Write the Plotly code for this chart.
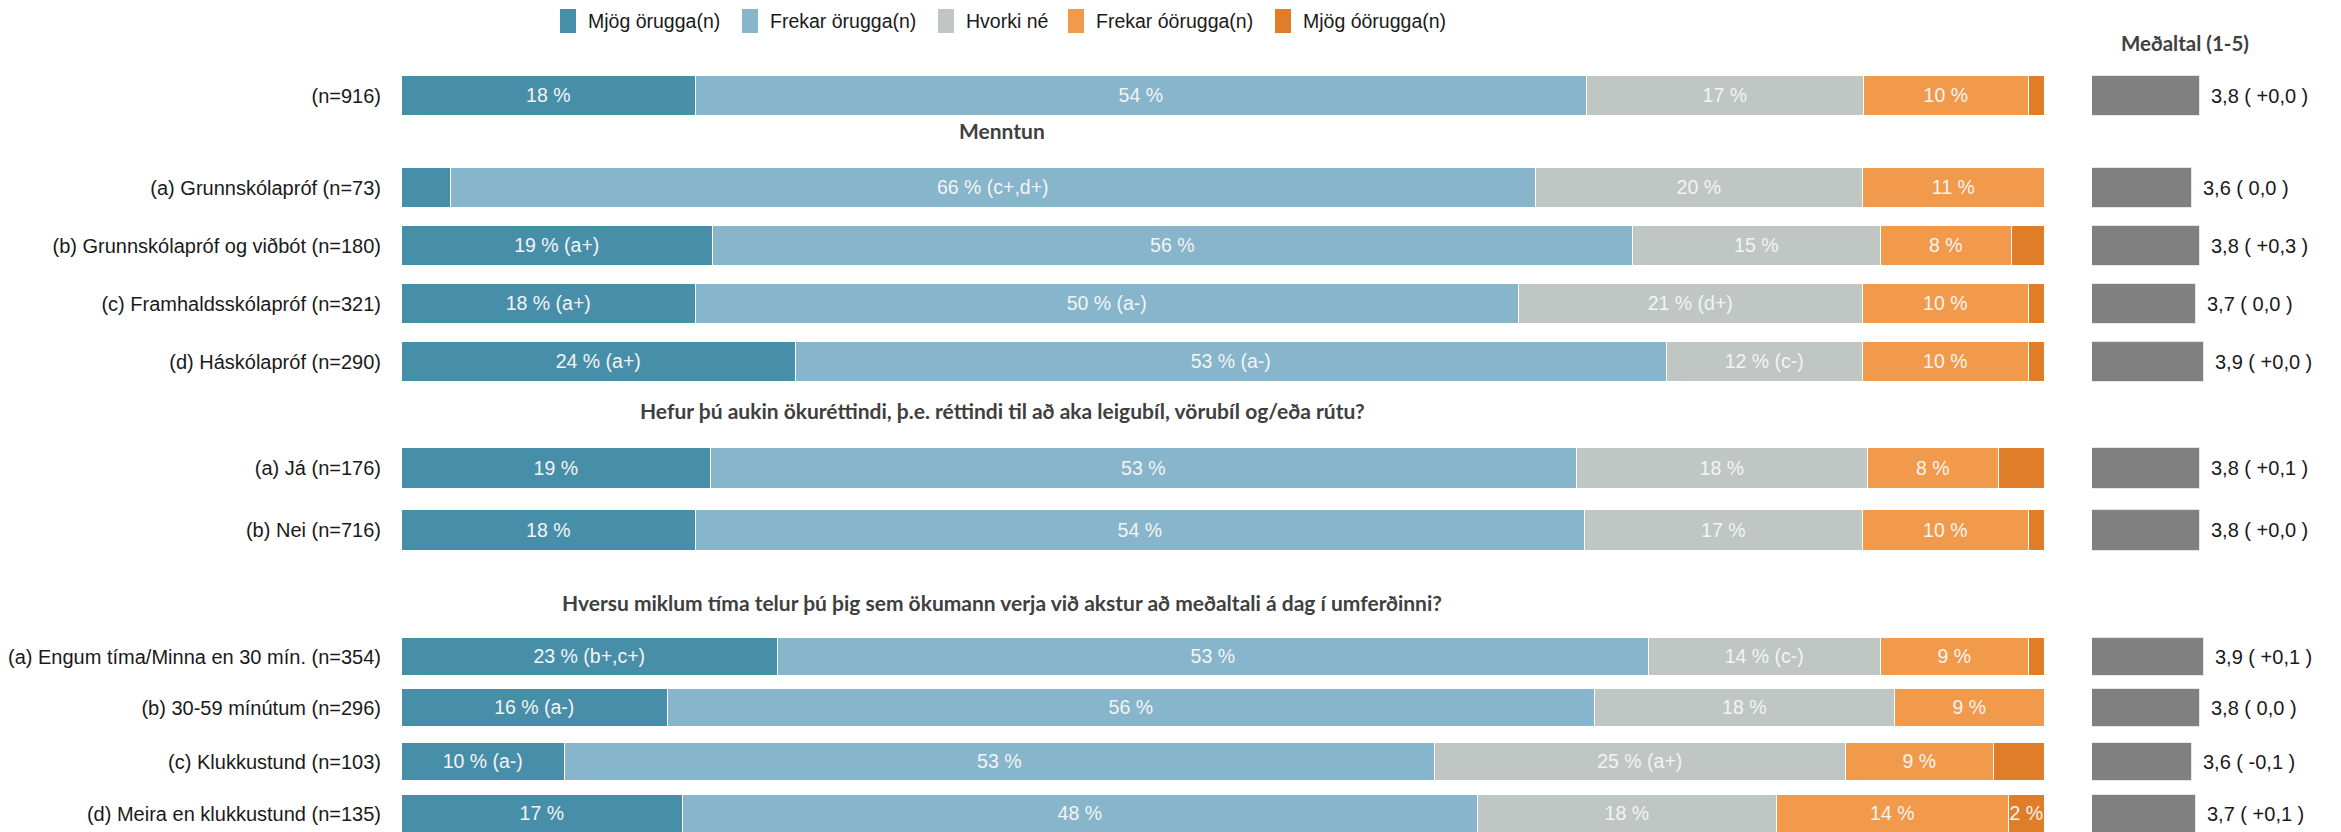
import plotly.graph_objects as go

# ---------------- data ----------------
rows = [
    "(n=916)",
    "(a) Grunnskólapróf (n=73)",
    "(b) Grunnskólapróf og viðbót (n=180)",
    "(c) Framhaldsskólapróf (n=321)",
    "(d) Háskólapróf (n=290)",
    "(a) Já (n=176)",
    "(b) Nei (n=716)",
    "(a) Engum tíma/Minna en 30 mín. (n=354)",
    "(b) 30-59 mínútum (n=296)",
    "(c) Klukkustund (n=103)",
    "(d) Meira en klukkustund (n=135)",
]
series_names = ["Mjög örugga(n)", "Frekar örugga(n)", "Hvorki né", "Frekar óörugga(n)", "Mjög óörugga(n)"]

mjog_orugga = [17.9, 3.0, 18.9, 17.9, 24.0, 18.8, 17.9, 22.9, 16.2, 9.9, 17.1]
frekar_orugga = [54.2, 66.0, 56.0, 50.1, 53.0, 52.7, 54.1, 53.0, 56.4, 53.0, 48.4]
hvorki = [16.9, 19.9, 15.1, 20.9, 11.9, 17.7, 16.9, 14.1, 18.3, 25.0, 18.2]
frekar_oorugga = [10.0, 11.1, 8.0, 10.1, 10.1, 8.0, 10.1, 9.0, 9.1, 9.0, 14.1]
mjog_oorugga = [1.0, 0.0, 2.0, 1.0, 1.0, 2.8, 1.0, 1.0, 0.0, 3.1, 2.2]

mjog_orugga_lbl = ["18 %", "", "19 % (a+)", "18 % (a+)", "24 % (a+)", "19 %", "18 %",
                   "23 % (b+,c+)", "16 % (a-)", "10 % (a-)", "17 %"]
frekar_orugga_lbl = ["54 %", "66 % (c+,d+)", "56 %", "50 % (a-)", "53 % (a-)", "53 %", "54 %",
                     "53 %", "56 %", "53 %", "48 %"]
hvorki_lbl = ["17 %", "20 %", "15 %", "21 % (d+)", "12 % (c-)", "18 %", "17 %",
              "14 % (c-)", "18 %", "25 % (a+)", "18 %"]
frekar_oorugga_lbl = ["10 %", "11 %", "8 %", "10 %", "10 %", "8 %", "10 %", "9 %", "9 %", "9 %", "14 %"]
mjog_oorugga_lbl = ["", "", "", "", "", "", "", "", "", "", "2 %"]

means = [3.8, 3.6, 3.8, 3.7, 3.9, 3.8, 3.8, 3.9, 3.8, 3.6, 3.7]
mean_lbl = ["3,8 ( +0,0 )", "3,6 ( 0,0 )", "3,8 ( +0,3 )", "3,7 ( 0,0 )", "3,9 ( +0,0 )",
            "3,8 ( +0,1 )", "3,8 ( +0,0 )", "3,9 ( +0,1 )", "3,8 ( 0,0 )", "3,6 ( -0,1 )",
            "3,7 ( +0,1 )"]

group_titles = [
    "Menntun",
    "Hefur þú aukin ökuréttindi, þ.e. réttindi til að aka leigubíl, vörubíl og/eða rútu?",
    "Hversu miklum tíma telur þú þig sem ökumann verja við akstur að meðaltali á dag í umferðinni?",
]
mean_title = "Meðaltal (1-5)"

# ---------------- layout / style ----------------
PAGE_W, PAGE_H = 2341, 832
OFF = 8                      # default page body margin of the html page
W, H = PAGE_W - OFF, PAGE_H - OFF


def px(x):
    """page x pixel -> paper fraction"""
    return (x - OFF) / W


row_y = [95.5, 188, 246, 303.5, 362, 468, 530, 656.5, 708, 762, 813.5]   # row centres (page px)
bar_h = [40, 40, 40, 40, 40, 41, 41, 38, 38, 38, 38]
title_y = [130, 410, 602]
title_cx = 1002
colors = ["#478EA9", "#87B5CB", "#BFC6C4", "#F29A4B", "#E07D28"]
legend_x = [560, 742, 938, 1068, 1275]

FONT = "Arial, Liberation Sans, sans-serif"
BOLD = "Lato, Open Sans, sans-serif"

fig = go.Figure()

values = [mjog_orugga, frekar_orugga, hvorki, frekar_oorugga, mjog_oorugga]
labels = [mjog_orugga_lbl, frekar_orugga_lbl, hvorki_lbl, frekar_oorugga_lbl, mjog_oorugga_lbl]
for name, vals, lbl, col in zip(series_names, values, labels, colors):
    fig.add_trace(go.Bar(
        name=name, x=vals, y=row_y, orientation="h", width=bar_h,
        marker=dict(color=col, line=dict(color="white", width=1.5)),
        text=lbl, textposition="inside", insidetextanchor="middle",
        textangle=0, constraintext="none",
        textfont=dict(family=FONT, size=19.5, color="#F4F4F4"),
        xaxis="x", yaxis="y", showlegend=False, hoverinfo="x+y",
    ))

fig.add_trace(go.Bar(
    x=means, y=row_y, orientation="h", width=bar_h,
    marker=dict(color="#808080", line=dict(color="#E6E6E6", width=1)),
    xaxis="x2", yaxis="y", showlegend=False,
))

annotations = []
for m, lb, yy in zip(means, mean_lbl, row_y):
    annotations.append(dict(x=m, y=yy, xref="x2", yref="y", text=lb, showarrow=False,
                            xanchor="left", yanchor="middle", xshift=9,
                            font=dict(family=FONT, size=20, color="#1A1A1A")))
for t, ty in zip(group_titles, title_y):
    annotations.append(dict(x=px(title_cx), y=ty, xref="paper", yref="y", text="<b>%s</b>" % t,
                            showarrow=False, xanchor="center", yanchor="middle",
                            font=dict(family=BOLD, size=21, color="#404040")))
annotations.append(dict(x=px(2184.5), y=43, xref="paper", yref="y", text="<b>%s</b>" % mean_title,
                        showarrow=False, xanchor="center", yanchor="middle",
                        font=dict(family=BOLD, size=20.5, color="#404040")))

shapes = []
for name, col, lx in zip(series_names, colors, legend_x):
    shapes.append(dict(type="rect", xref="paper", yref="y", x0=px(lx), x1=px(lx + 16),
                       y0=9, y1=33, fillcolor=col, line=dict(width=0)))
    annotations.append(dict(x=px(lx + 26), y=21, xref="paper", yref="y", text=name,
                            showarrow=False, xanchor="left", yanchor="middle",
                            font=dict(family=FONT, size=19.5, color="#1A1A1A")))

fig.update_layout(
    width=W, height=H, margin=dict(l=0, r=0, t=0, b=0),
    paper_bgcolor="white", plot_bgcolor="white",
    barmode="stack", bargap=0,
    xaxis=dict(domain=[px(402), px(2045)], range=[0, 100], visible=False, anchor="y"),
    xaxis2=dict(domain=[px(2092), px(2246)], range=[1, 5], visible=False, anchor="y"),
    yaxis=dict(domain=[0, 1], range=[PAGE_H, OFF], tickvals=row_y, ticktext=rows,
               showgrid=False, zeroline=False, showline=False, ticks="",
               ticklabelstandoff=20, automargin=False,
               tickfont=dict(family=FONT, size=20, color="#1A1A1A")),
    annotations=annotations, shapes=shapes, showlegend=False,
)

fig.write_html("out.html")
